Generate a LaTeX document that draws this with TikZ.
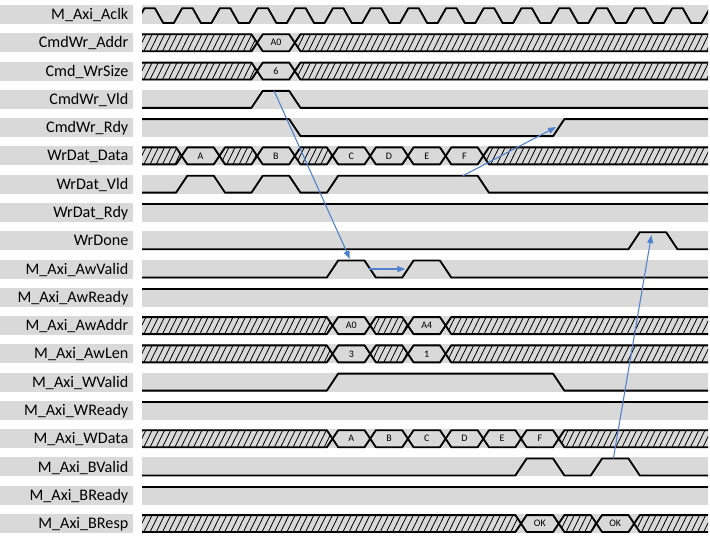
\documentclass[tikz,border=0pt]{standalone}
\usepackage{fontspec}
\setmainfont{Carlito}
\usetikzlibrary{arrows.meta}
\definecolor{bandgray}{RGB}{217,217,217}
\definecolor{depblue}{RGB}{79,129,206}

% hatched bus segment: row, from, to
\newcommand\hatchseg[3]{%
  \begin{scope}
    \clip (#2,#1) -- (#2+0.15,#1-0.3) -- (#3-0.15,#1-0.3) -- (#3,#1)
      -- (#3-0.15,#1+0.3) -- (#2+0.15,#1+0.3) -- cycle;
    \foreach \n in {0,...,100}
      \draw[hatch] (#2-0.3+\n*0.165,#1+0.3) -- ++(0.22,-0.6);
  \end{scope}
  \draw[wave] (#2,#1) -- (#2+0.15,#1-0.3) -- (#3-0.15,#1-0.3) -- (#3,#1)
    -- (#3-0.15,#1+0.3) -- (#2+0.15,#1+0.3) -- cycle;}
% bus segment with a value: row, from, to, name, text
\newcommand\valseg[5]{%
  \draw[wave] (#2,#1) -- (#2+0.15,#1-0.3) -- (#3-0.15,#1-0.3) -- (#3,#1)
    -- (#3-0.15,#1+0.3) -- (#2+0.15,#1+0.3) -- cycle;
  \node[val] (#4) at ({(#2+#3)/2},#1) {#5};}

\begin{document}
\begin{tikzpicture}[x=28.275pt, y=-21.21pt,
    band/.style={fill=bandgray},
    wave/.style={line width=1.4pt, line join=round},
    hatch/.style={line width=0.6pt},
    lab/.style={anchor=base east, font=\fontsize{12.1}{14}\selectfont, inner sep=0pt},
    val/.style={font=\fontsize{7.5}{9}\selectfont, inner sep=0pt},
    dep/.style={draw=depblue, line width=0.8pt, -{Triangle[length=6pt,width=4.5pt]}}]
  \useasboundingbox (-3.82,-0.513) rectangle (15.013,18.653);

  % bands and signal names
  \foreach \sig [count=\i from 0] in {M\_Axi\_Aclk, CmdWr\_Addr, Cmd\_WrSize,
      CmdWr\_Vld, CmdWr\_Rdy, WrDat\_Data, WrDat\_Vld, WrDat\_Rdy, WrDone,
      M\_Axi\_AwValid, M\_Axi\_AwReady, M\_Axi\_AwAddr, M\_Axi\_AwLen,
      M\_Axi\_WValid, M\_Axi\_WReady, M\_Axi\_WData, M\_Axi\_BValid,
      M\_Axi\_BReady, M\_Axi\_BResp} {
    \fill[band] (-3.82,\i-0.336) rectangle (-0.292,\i+0.336);
    \fill[band] (-0.053,\i-0.336) rectangle (14.96,\i+0.336);
    \node[lab] (lab\i) at (-0.41,\i+0.18) {\sig};
  }

  \begin{scope}
    \clip (-0.053,-1) rectangle (14.96,19);
    % clock
    \draw[wave] (-0.5,0.3) foreach \k in {0,...,15} {
      -- (\k-0.21,0.3) -- (\k+0.01,-0.22) -- (\k+0.29,-0.22) -- (\k+0.51,0.3)};

    % command interface
    \hatchseg{1}{-0.2}{3} \valseg{1}{3}{4}{addr}{A0} \hatchseg{1}{4}{15.2}
    \hatchseg{2}{-0.2}{3} \valseg{2}{3}{4}{size}{6} \hatchseg{2}{4}{15.2}
    \draw[wave] (-0.5,3.3) -- (2.85,3.3) -- (3.15,2.7) -- (3.85,2.7) -- (4.15,3.3) -- (15.5,3.3);
    \draw[wave] (-0.5,3.7) -- (3.85,3.7) -- (4.15,4.3) -- (10.85,4.3) -- (11.15,3.7) -- (15.5,3.7);

    % write data interface
    \hatchseg{5}{-0.2}{1} \valseg{5}{1}{2}{datA}{A} \hatchseg{5}{2}{3}
    \valseg{5}{3}{4}{datB}{B} \hatchseg{5}{4}{5}
    \valseg{5}{5}{6}{datC}{C} \valseg{5}{6}{7}{datD}{D}
    \valseg{5}{7}{8}{datE}{E} \valseg{5}{8}{9}{datF}{F} \hatchseg{5}{9}{15.2}
    \draw[wave] (-0.5,6.3) -- (0.85,6.3) -- (1.15,5.7) -- (1.85,5.7) -- (2.15,6.3) -- (2.85,6.3)
      -- (3.15,5.7) -- (3.85,5.7) -- (4.15,6.3) -- (4.85,6.3) -- (5.15,5.7) -- (8.85,5.7)
      -- (9.15,6.3) -- (15.5,6.3);
    \draw[wave] (-0.5,6.7) -- (15.5,6.7);
    \draw[wave] (-0.5,8.3) -- (12.85,8.3) -- (13.15,7.7) -- (13.85,7.7) -- (14.15,8.3) -- (15.5,8.3);

    % write address channel
    \draw[wave] (-0.5,9.3) -- (4.85,9.3) -- (5.15,8.7) -- (5.85,8.7) -- (6.15,9.3) -- (6.85,9.3)
      -- (7.15,8.7) -- (7.85,8.7) -- (8.15,9.3) -- (15.5,9.3);
    \draw[wave] (-0.5,9.7) -- (15.5,9.7);
    \hatchseg{11}{-0.2}{5} \valseg{11}{5}{6}{awA}{A0} \hatchseg{11}{6}{7}
    \valseg{11}{7}{8}{awB}{A4} \hatchseg{11}{8}{15.2}
    \hatchseg{12}{-0.2}{5} \valseg{12}{5}{6}{lenA}{3} \hatchseg{12}{6}{7}
    \valseg{12}{7}{8}{lenB}{1} \hatchseg{12}{8}{15.2}

    % write data channel
    \draw[wave] (-0.5,13.3) -- (4.85,13.3) -- (5.15,12.7) -- (10.85,12.7) -- (11.15,13.3) -- (15.5,13.3);
    \draw[wave] (-0.5,13.7) -- (15.5,13.7);
    \hatchseg{15}{-0.2}{5}
    \valseg{15}{5}{6}{wA}{A} \valseg{15}{6}{7}{wB}{B} \valseg{15}{7}{8}{wC}{C}
    \valseg{15}{8}{9}{wD}{D} \valseg{15}{9}{10}{wE}{E} \valseg{15}{10}{11}{wF}{F}
    \hatchseg{15}{11}{15.2}

    % write response channel
    \draw[wave] (-0.5,16.3) -- (9.85,16.3) -- (10.15,15.7) -- (10.85,15.7) -- (11.15,16.3) -- (11.85,16.3)
      -- (12.15,15.7) -- (12.85,15.7) -- (13.15,16.3) -- (15.5,16.3);
    \draw[wave] (-0.5,16.7) -- (15.5,16.7);
    \hatchseg{18}{-0.2}{10} \valseg{18}{10}{11}{respA}{OK} \hatchseg{18}{11}{12}
    \valseg{18}{12}{13}{respB}{OK} \hatchseg{18}{13}{15.2}
  \end{scope}

  % dependencies
  \coordinate (cmdVld) at (3.45,2.7);
  \coordinate (awvHi) at (5.46,8.64);
  \coordinate (awvFall) at (5.97,9);
  \coordinate (awvRise) at (6.93,9);
  \coordinate (datVld) at (8.46,5.7);
  \coordinate (rdyRise) at (10.93,3.98);
  \coordinate (bvHi) at (12.45,15.7);
  \coordinate (doneHi) at (13.46,7.8);
  \draw[dep] (cmdVld) -- (awvHi);
  \draw[dep] (awvFall) -- (awvRise);
  \draw[dep] (datVld) -- (rdyRise);
  \draw[dep] (bvHi) -- (doneHi);
\end{tikzpicture}
\end{document}
